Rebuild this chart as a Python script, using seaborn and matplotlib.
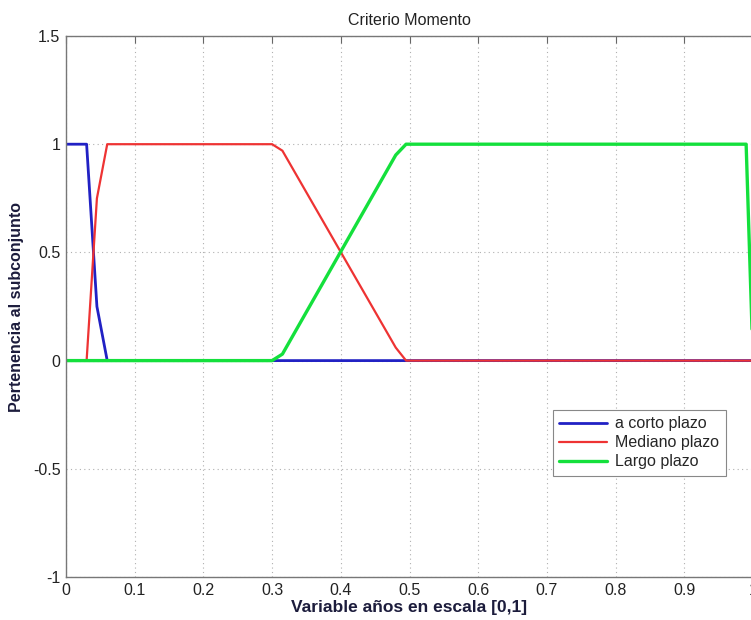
import numpy as np
import pandas as pd
import matplotlib
matplotlib.use('Agg')
import matplotlib.pyplot as plt
import seaborn as sns

# datos (funciones de pertenencia)
x_corto = [0.0, 0.03, 0.045, 0.06, 0.30, 0.50, 1.0]
y_corto = [1.0, 1.0, 0.25, 0.0, 0.0, 0.0, 0.0]

x_mediano = [0.0, 0.03, 0.045, 0.06, 0.30, 0.315, 0.48, 0.495, 1.0]
y_mediano = [0.0, 0.0, 0.75, 1.0, 1.0, 0.97, 0.06, 0.0, 0.0]

x_largo = [0.0, 0.30, 0.315, 0.48, 0.495, 0.99, 1.0]
y_largo = [0.0, 0.0, 0.03, 0.95, 1.0, 1.0, 0.0]

etiquetas = ['a corto plazo', 'Mediano plazo', 'Largo plazo']
colores = ['#2121c4', '#ee3333', '#14e03c']
grosores = [2.0, 1.6, 2.4]

xticks = [0, 0.1, 0.2, 0.3, 0.4, 0.5, 0.6, 0.7, 0.8, 0.9, 1]
yticks = [-1, -0.5, 0, 0.5, 1, 1.5]

df = pd.concat([
    pd.DataFrame({'x': x_corto, 'y': y_corto, 'serie': etiquetas[0]}),
    pd.DataFrame({'x': x_mediano, 'y': y_mediano, 'serie': etiquetas[1]}),
    pd.DataFrame({'x': x_largo, 'y': y_largo, 'serie': etiquetas[2]}),
], ignore_index=True)

sns.set_style('white')
plt.rcParams['font.family'] = ['Liberation Sans', 'DejaVu Sans']

fig = plt.figure(figsize=(7.51, 6.2), dpi=100)
ax = fig.add_axes([66 / 751, 43 / 620, 687 / 751, 541 / 620])

for i, nombre in enumerate(etiquetas):
    sub = df[df['serie'] == nombre]
    sns.lineplot(data=sub, x='x', y='y', color=colores[i], linewidth=grosores[i],
                 label=nombre, ax=ax, sort=False, estimator=None)

ax.set_xlim(0, 1)
ax.set_ylim(-1, 1.5)
ax.set_xticks(xticks)
ax.set_xticklabels([f'{t:g}' for t in xticks])
ax.set_yticks(yticks)
ax.set_yticklabels([f'{t:g}' for t in yticks])
ax.grid(True, linestyle=(0, (1, 3)), color='#b0b0b0', linewidth=0.8)
ax.tick_params(direction='in', length=5, top=True, right=False, labelsize=11.5,
               colors='#222222', color='#666666', pad=4)
for s in ['left', 'bottom', 'top']:
    ax.spines[s].set_color('#777777')
    ax.spines[s].set_linewidth(1.0)
ax.spines['right'].set_visible(False)

ax.set_title('Criterio Momento', fontsize=11.5, color='#222222', pad=8)
ax.set_xlabel('Variable años en escala [0,1]', fontsize=12.5, fontweight='bold',
              color='#1c1c3c', labelpad=2)
ax.set_ylabel('Pertenencia al subconjunto', fontsize=11.5, fontweight='bold',
              color='#1c1c3c', labelpad=6)

leg = ax.legend(loc='upper left', bbox_to_anchor=(0.709, 0.309), fancybox=False,
                edgecolor='#888888', fontsize=11.5, handlelength=3.0,
                borderpad=0.4, labelspacing=0.25, handletextpad=0.5, framealpha=1,
                borderaxespad=0)
leg.get_frame().set_linewidth(0.8)

fig.savefig('out.png', dpi=100)
